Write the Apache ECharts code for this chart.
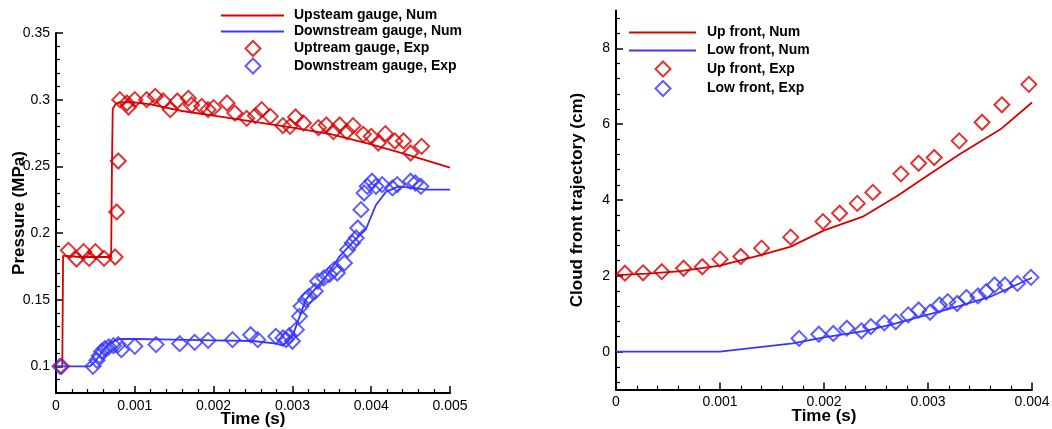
<!DOCTYPE html>
<html>
<head>
<meta charset="utf-8">
<script src="https://cdn.jsdelivr.net/npm/echarts@6/dist/echarts.min.js"></script>
<style>
  html, body { margin: 0; padding: 0; background: #fff; }
  #chart { width: 1052px; height: 429px; }
</style>
</head>
<body>
<div id="chart"></div>
<script>
// ---- Pressure at the gauges (left panel) ----
const upNumT = [0, 0.00008, 0.00009, 0.0003, 0.0005, 0.0007, 0.00071, 0.00072, 0.00076, 0.0008, 0.001, 0.0012, 0.0016, 0.002, 0.0025, 0.003, 0.0035, 0.004, 0.0045, 0.005];
const upNumP = [0.1, 0.1, 0.183, 0.182, 0.182, 0.182, 0.25, 0.293, 0.297, 0.298, 0.298, 0.2965, 0.2915, 0.288, 0.2835, 0.279, 0.274, 0.2665, 0.258, 0.249];

const downNumT = [0, 0.00043, 0.0005, 0.0006, 0.0007, 0.00081, 0.001, 0.0015, 0.002, 0.0025, 0.0028, 0.00288, 0.003, 0.00317, 0.00343, 0.0036, 0.00378, 0.00393, 0.00406, 0.00419, 0.00435, 0.0047, 0.005];
const downNumP = [0.1, 0.1, 0.104, 0.112, 0.118, 0.1205, 0.1205, 0.12, 0.1195, 0.119, 0.117, 0.1155, 0.1225, 0.15, 0.1675, 0.1825, 0.194, 0.2025, 0.221, 0.231, 0.235, 0.2325, 0.2325];

const upExpT = [0.00007, 0.000157, 0.00026, 0.00035, 0.00042, 0.0005, 0.00061, 0.00075, 0.00077, 0.00079, 0.00081, 0.0009, 0.00092, 0.001, 0.00115, 0.00126, 0.00136, 0.00145, 0.00154, 0.00168, 0.00172, 0.00185, 0.00193, 0.002, 0.00217, 0.00227, 0.00242, 0.00253, 0.00261, 0.00272, 0.00288, 0.00297, 0.00304, 0.00314, 0.00333, 0.00343, 0.00352, 0.0036, 0.00369, 0.00377, 0.0039, 0.004, 0.00409, 0.00418, 0.0043, 0.00441, 0.0045, 0.00464];
const upExpP = [0.1, 0.187, 0.1805, 0.186, 0.181, 0.186, 0.181, 0.182, 0.2158, 0.254, 0.3, 0.2975, 0.2945, 0.3, 0.3, 0.3025, 0.299, 0.2925, 0.299, 0.301, 0.296, 0.295, 0.2925, 0.294, 0.2975, 0.29, 0.286, 0.288, 0.2925, 0.2875, 0.2805, 0.28, 0.287, 0.2825, 0.279, 0.281, 0.276, 0.281, 0.276, 0.2805, 0.274, 0.2725, 0.2675, 0.2745, 0.269, 0.269, 0.26, 0.265];

const downExpT = [0.00005, 0.00047, 0.00052, 0.00055, 0.00058, 0.00062, 0.00067, 0.00073, 0.00079, 0.00083, 0.001, 0.00127, 0.00157, 0.00176, 0.00193, 0.00224, 0.00247, 0.00256, 0.00279, 0.00288, 0.00292, 0.00296, 0.003, 0.00305, 0.00309, 0.00311, 0.00317, 0.00321, 0.00329, 0.00332, 0.0034, 0.00347, 0.00353, 0.00357, 0.00366, 0.0037, 0.00376, 0.00381, 0.00383, 0.00387, 0.00391, 0.00395, 0.00401, 0.00406, 0.00414, 0.00427, 0.00433, 0.0045, 0.00456, 0.00463];
const downExpP = [0.1, 0.1, 0.1045, 0.108, 0.1112, 0.1133, 0.1145, 0.1155, 0.1163, 0.1125, 0.115, 0.1163, 0.117, 0.118, 0.1195, 0.12, 0.1237, 0.12, 0.1225, 0.1213, 0.12, 0.123, 0.1188, 0.1275, 0.1375, 0.145, 0.15, 0.1525, 0.1563, 0.1638, 0.1663, 0.1688, 0.1725, 0.17, 0.1775, 0.1875, 0.1925, 0.1963, 0.2038, 0.2175, 0.23, 0.235, 0.2388, 0.235, 0.2363, 0.2338, 0.2363, 0.2388, 0.2375, 0.235];

// ---- Cloud front trajectory (right panel) ----
const upFrontNumT = [0, 0.0003, 0.0006, 0.001, 0.0014, 0.00168, 0.002, 0.00238, 0.0027, 0.003, 0.0033, 0.0037, 0.004];
const upFrontNumY = [2.02, 2.06, 2.12, 2.27, 2.55, 2.77, 3.2, 3.57, 4.1, 4.65, 5.2, 5.87, 6.57];

const lowFrontNumT = [0, 0.001, 0.0017, 0.002, 0.0024, 0.0027, 0.003, 0.0033, 0.0036, 0.004];
const lowFrontNumY = [0, 0, 0.22, 0.38, 0.55, 0.75, 0.98, 1.2, 1.45, 1.95];

const upFrontExpT = [0.000086, 0.00026, 0.00044, 0.00065, 0.00083, 0.001, 0.0012, 0.0014, 0.00168, 0.00199, 0.00215, 0.00232, 0.00247, 0.00274, 0.00291, 0.00306, 0.0033, 0.00352, 0.00371, 0.00397];
const upFrontExpY = [2.07, 2.08, 2.11, 2.2, 2.24, 2.44, 2.51, 2.73, 3.02, 3.43, 3.65, 3.91, 4.2, 4.69, 4.97, 5.12, 5.56, 6.05, 6.51, 7.05];

const lowFrontExpT = [0.00176, 0.00195, 0.00209, 0.00222, 0.00236, 0.00245, 0.00258, 0.00269, 0.00281, 0.00291, 0.00302, 0.00311, 0.00319, 0.00328, 0.00337, 0.00348, 0.00356, 0.00364, 0.00374, 0.00386, 0.00399];
const lowFrontExpY = [0.35, 0.46, 0.48, 0.62, 0.55, 0.66, 0.76, 0.79, 0.97, 1.1, 1.04, 1.23, 1.32, 1.27, 1.43, 1.47, 1.58, 1.76, 1.76, 1.8, 1.96];

// ---- Tick positions ----
const pressureLabels = [0.1, 0.15, 0.2, 0.25, 0.3, 0.35];
const pressureMinor = [0.09, 0.11, 0.12, 0.13, 0.14, 0.16, 0.17, 0.18, 0.19, 0.21, 0.22, 0.23, 0.24, 0.26, 0.27, 0.28, 0.29, 0.31, 0.32, 0.33, 0.34];
const frontLabels = [0, 2, 4, 6, 8];
const frontMinor = [-0.8, -0.4, 0.4, 0.8, 1.2, 1.6, 2.4, 2.8, 3.2, 3.6, 4.4, 4.8, 5.2, 5.6, 6.4, 6.8, 7.2, 7.6, 8.4, 8.8];

// ---- Legend entries ----
const gaugeNumNames = ['Upsteam gauge, Num', 'Downstream gauge, Num'];
const gaugeExpNames = ['Uptream gauge, Exp', 'Downstream gauge, Exp'];
const frontNumNames = ['Up front, Num', 'Low front, Num'];
const frontExpNames = ['Up front, Exp', 'Low front, Exp'];

const RED = '#d80000';
const BLUE = '#3636ff';
const FONT = 'Liberation Sans, Arial, sans-serif';

function zip(xs, ys) { return xs.map((x, i) => [x, ys[i]]); }

const tickLabel = { color: '#000', fontFamily: FONT, fontSize: 14 };
const titleStyle = { color: '#000', fontFamily: FONT, fontSize: 17, fontWeight: 'bold' };

function timeAxis(gridIndex, max) {
  return {
    type: 'value', gridIndex, min: 0, max, interval: 0.001,
    name: 'Time (s)', nameLocation: 'middle', nameGap: 18, nameMoveOverlap: false, nameTextStyle: titleStyle,
    axisLine: { show: true, onZero: false, lineStyle: { color: '#000', width: 2 } },
    axisTick: { show: true, inside: true, length: 7, lineStyle: { color: '#000', width: 1.5 } },
    minorTick: { show: true, splitNumber: 5, length: 4, lineStyle: { color: '#000', width: 1.2 } },
    axisLabel: Object.assign({ margin: 6 }, tickLabel),
    splitLine: { show: false }, minorSplitLine: { show: false }
  };
}

function valueAxis(gridIndex, min, max, labels, name, gap) {
  return {
    type: 'value', gridIndex, min, max, position: 'left',
    name, nameLocation: 'middle', nameGap: gap, nameMoveOverlap: false, nameTextStyle: titleStyle,
    axisLine: { show: true, onZero: false, lineStyle: { color: '#000', width: 2 } },
    axisTick: { show: true, inside: true, length: 7, customValues: labels, lineStyle: { color: '#000', width: 1.5 } },
    axisLabel: Object.assign({ margin: 6, customValues: labels, showMinLabel: true, showMaxLabel: true }, tickLabel),
    splitLine: { show: false }
  };
}

function minorAxis(gridIndex, min, max, ticks) {
  return {
    type: 'value', gridIndex, min, max, position: 'left', offset: 0,
    axisLine: { show: false },
    axisTick: { show: true, inside: true, length: 4, customValues: ticks, lineStyle: { color: '#000', width: 1.2 } },
    axisLabel: { show: false },
    splitLine: { show: false }
  };
}

function lineSeries(name, xi, yi, data, color) {
  return {
    name, type: 'line', xAxisIndex: xi, yAxisIndex: yi, data,
    symbol: 'none', showSymbol: false, smooth: false,
    lineStyle: { color, width: 1.8 }, itemStyle: { color },
    animation: false, z: 2
  };
}

function expSeries(name, xi, yi, data, color) {
  return {
    name, type: 'scatter', xAxisIndex: xi, yAxisIndex: yi, data,
    symbol: 'diamond', symbolSize: 15,
    itemStyle: { color: 'rgba(0,0,0,0)', borderColor: color, borderWidth: 2 },
    animation: false, z: 3
  };
}

const legendText = { color: '#000', fontFamily: FONT, fontSize: 14, fontWeight: 'bold', lineHeight: 15 };

// Line entries: icon is just the stroke, no marker in the middle
function lineLegend(names, left, top, width, gap, textPad) {
  return {
    orient: 'vertical', left, top, padding: 0, itemWidth: width, itemHeight: 15, itemGap: gap,
    textStyle: Object.assign({ padding: [0, 0, 0, textPad] }, legendText),
    data: names.map(n => ({ name: n, itemStyle: { opacity: 0 } }))
  };
}
// Marker entries: square icon box so the diamond keeps its shape
function markerLegend(names, left, top, gap, textPad) {
  return {
    orient: 'vertical', left, top, padding: 0, itemWidth: 15, itemHeight: 15, itemGap: gap,
    textStyle: Object.assign({ padding: [0, 0, 0, textPad] }, legendText),
    data: names
  };
}

const chart = echarts.init(document.getElementById('chart'), null, { renderer: 'canvas' });
chart.setOption({
  backgroundColor: '#fff',
  animation: false,
  grid: [
    { left: 56, right: 602, top: 33, bottom: 36, outerBoundsMode: 'none', containLabel: false },
    { left: 616, right: 20, top: 10.4, bottom: 39.4, outerBoundsMode: 'none', containLabel: false }
  ],
  legend: [
    lineLegend(gaugeNumNames, 220, 8, 63, 1, 5),
    markerLegend(gaugeExpNames, 244.5, 40, 0.5, 28.5),
    lineLegend(frontNumNames, 628, 25, 67, 3, 6),
    markerLegend(frontExpNames, 654.5, 60.5, 2.5, 31.5)
  ],
  xAxis: [timeAxis(0, 0.005), timeAxis(1, 0.004)],
  yAxis: [
    valueAxis(0, 0.08, 0.35, pressureLabels, 'Pressure (MPa)', 28),
    minorAxis(0, 0.08, 0.35, pressureMinor),
    valueAxis(1, -1, 9, frontLabels, 'Cloud front trajectory (cm)', 30),
    minorAxis(1, -1, 9, frontMinor)
  ],
  series: [
    lineSeries(gaugeNumNames[0], 0, 0, zip(upNumT, upNumP), RED),
    lineSeries(gaugeNumNames[1], 0, 0, zip(downNumT, downNumP), BLUE),
    expSeries(gaugeExpNames[0], 0, 0, zip(upExpT, upExpP), RED),
    expSeries(gaugeExpNames[1], 0, 0, zip(downExpT, downExpP), BLUE),
    lineSeries(frontNumNames[0], 1, 2, zip(upFrontNumT, upFrontNumY), RED),
    lineSeries(frontNumNames[1], 1, 2, zip(lowFrontNumT, lowFrontNumY), BLUE),
    expSeries(frontExpNames[0], 1, 2, zip(upFrontExpT, upFrontExpY), RED),
    expSeries(frontExpNames[1], 1, 2, zip(lowFrontExpT, lowFrontExpY), BLUE)
  ]
});
</script>
</body>
</html>
